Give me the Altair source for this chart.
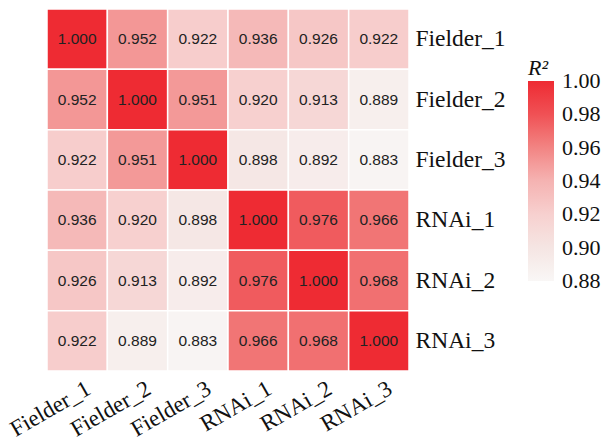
import altair as alt
import pandas as pd

samples = ["Fielder_1", "Fielder_2", "Fielder_3", "RNAi_1", "RNAi_2", "RNAi_3"]
fielder_1 = [1.000, 0.952, 0.922, 0.936, 0.926, 0.922]
fielder_2 = [0.952, 1.000, 0.951, 0.920, 0.913, 0.889]
fielder_3 = [0.922, 0.951, 1.000, 0.898, 0.892, 0.883]
rnai_1 = [0.936, 0.920, 0.898, 1.000, 0.976, 0.966]
rnai_2 = [0.926, 0.913, 0.892, 0.976, 1.000, 0.968]
rnai_3 = [0.922, 0.889, 0.883, 0.966, 0.968, 1.000]
matrix = [fielder_1, fielder_2, fielder_3, rnai_1, rnai_2, rnai_3]

legend_values = [0.88, 0.90, 0.92, 0.94, 0.96, 0.98, 1.00]
color_domain = [0.8799, 0.90, 0.92, 0.94, 0.96, 0.98, 1.0001]
color_range = ["#f9f7f6", "#f5e5e3", "#f7d0cf", "#f5b3b2",
               "#f28483", "#f05155", "#ee2b33"]

records = []
for i, r in enumerate(samples):
    for j, c in enumerate(samples):
        records.append({"row": r, "col": c, "r2": matrix[i][j]})
df = pd.DataFrame(records)

serif = "Liberation Serif"

base = alt.Chart(df).encode(
    x=alt.X("col:N", sort=samples, scale=alt.Scale(paddingInner=0, paddingOuter=0),
            axis=alt.Axis(title=None, labelAngle=-30, labelFont=serif, labelFontSize=23,
                          labelColor="#111", labelPadding=6, labelOffset=6,
                          domain=False, ticks=False)),
    y=alt.Y("row:N", sort=samples, scale=alt.Scale(paddingInner=0, paddingOuter=0),
            axis=alt.Axis(title=None, orient="right", labelFont=serif, labelFontSize=23.5,
                          labelColor="#111", labelPadding=6, domain=False, ticks=False)),
)

rect = base.mark_rect(stroke="white", strokeWidth=1.5).encode(
    color=alt.Color("r2:Q",
                    scale=alt.Scale(domain=color_domain, range=color_range, interpolate="rgb"),
                    legend=alt.Legend(orient="none", legendX=481, legendY=49,
                                      title="R²", titleFont=serif, titleFontStyle="italic",
                                      titleFontWeight="normal", titleFontSize=22,
                                      titleColor="#111", titlePadding=1,
                                      labelFont=serif, labelFontSize=22, labelColor="#111",
                                      labelOffset=8, labelOverlap=False,
                                      values=legend_values, format=".2f",
                                      gradientLength=200, gradientThickness=26,
                                      gradientStrokeWidth=0, direction="vertical"))
)

text = base.mark_text(font="Liberation Sans", fontSize=15.5, color="#222").encode(
    text=alt.Text("r2:Q", format=".3f")
)

chart = (rect + text).properties(
    width=362, height=362,
    padding={"left": 47, "top": 9, "right": 193, "bottom": 66},
    autosize=alt.AutoSizeParams(type="none"),
).configure_view(stroke=None)

chart.save("out.html", embed_options={"renderer": "svg", "actions": False})
